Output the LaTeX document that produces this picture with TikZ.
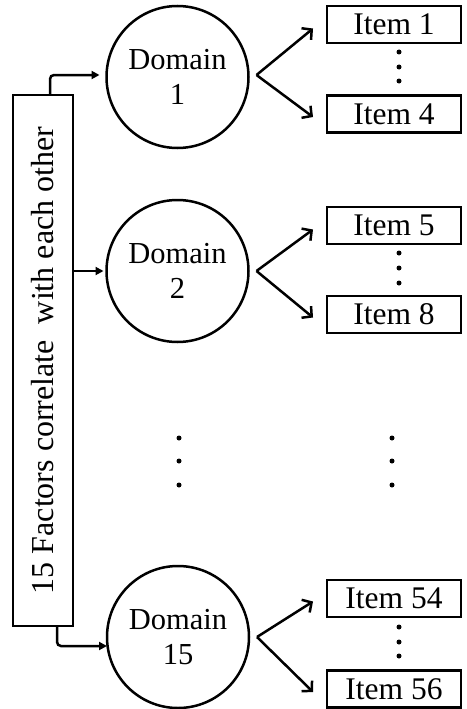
\documentclass[tikz,border=0pt]{standalone}
\usepackage{fontspec}
\setmainfont{Liberation Serif}
\usetikzlibrary{arrows.meta,calc}
\begin{document}
\begin{tikzpicture}[x=1pt,y=-1pt,
  line width=2.5pt,
  every node/.style={inner sep=0pt, outer sep=0pt},
  dom/.style={circle, draw, minimum size=142pt, align=center,
    font=\fontsize{30.5}{35}\selectfont},
  itembox/.style={draw, minimum width=134pt, minimum height=37pt,
    font=\fontsize{31.5}{34}\selectfont},
  feed/.style={-{Triangle[length=8pt,width=8pt]}, rounded corners=4pt},
  fan/.style={-{Straight Barb[length=7pt,width=15pt,line width=2.5pt]}},
  dotmark/.style={fill=black}
]
\useasboundingbox (0,0) rectangle (466,709);

% factor box (rotated)
\node[draw, rotate=90, minimum width=531pt, minimum height=60pt,
  font=\fontsize{32}{36}\selectfont] (F) at (43,360.5)
  {15 Factors correlate \ with each other};

% domains
\node[dom] (D1) at (177.5,77) {Domain\\1};
\node[dom] (D2) at (177.5,271) {Domain\\2};
\node[dom] (D15) at (178,637) {Domain\\15};

% items
\node[itembox] (I1) at (394,24.5) {Item 1};
\node[itembox] (I4) at (394,114) {Item 4};
\node[itembox] (I5) at (394,225.5) {Item 5};
\node[itembox] (I8) at (394,314.5) {Item 8};
\node[itembox] (I54) at (394,598.5) {Item 54};
\node[itembox] (I56) at (394,689) {Item 56};

% feeds from factor box
\draw[feed, shorten >=7pt] ([xshift=7pt]F.east) |- ([yshift=2pt]D1.west);
\draw[feed, shorten >=3pt] (D2.west -| F.south) -- (D2.west);
\draw[feed] ([xshift=14pt]F.west) |- ([yshift=-9pt]D15.west);

% fan-out arrows
\coordinate (o1) at ([xshift=8pt,yshift=2pt]D1.east);
\coordinate (o2) at ([xshift=8pt]D2.east);
\coordinate (o15) at ([xshift=8pt]D15.east);
\draw[fan] (o1) -- ([xshift=-14pt,yshift=-4pt]I1.west);
\draw[fan] (o1) -- ([xshift=-14pt,yshift=-3pt]I4.west);
\draw[fan] (o2) -- ([xshift=-14pt,yshift=-4pt]I5.west);
\draw[fan] (o2) -- ([xshift=-14pt,yshift=-3pt]I8.west);
\draw[fan] (o15) -- ([xshift=-14pt,yshift=-3pt]I54.west);
\draw[fan] (o15) -- ([xshift=-14pt,yshift=-3pt]I56.west);

% vertical ellipses
\foreach \yy in {52,67,81,253,268,283,627,642,656}
  \fill[dotmark] (399,\yy) circle (2.5pt);
\foreach \yy in {438,461,485} {
  \fill[dotmark] (179,\yy) circle (2.5pt);
  \fill[dotmark] (392,\yy) circle (2.5pt);
}
\end{tikzpicture}
\end{document}
